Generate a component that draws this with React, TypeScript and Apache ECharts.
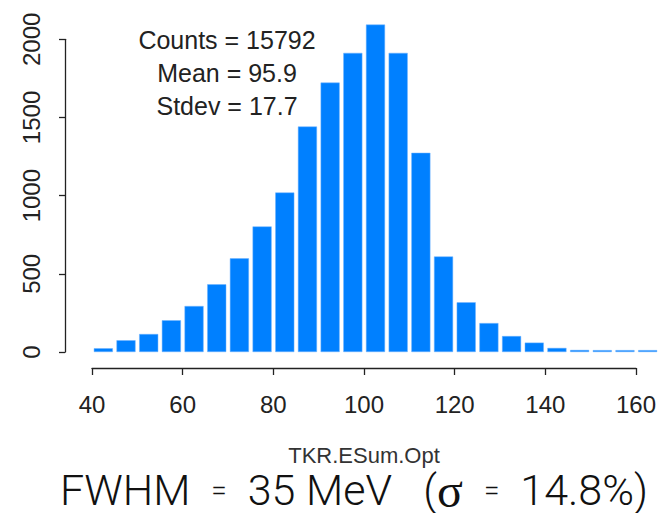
import React, { useEffect, useRef } from "react";
import * as echarts from "echarts";

const binLabels = [
  "40", "45", "50", "55", "60", "65", "70", "75", "80", "85", "90", "95", "100",
  "105", "110", "115", "120", "125", "130", "135", "140", "145", "150", "155", "160",
];
const counts = [
  24, 75, 115, 203, 294, 433, 599, 803, 1020, 1442, 1723, 1913, 2094,
  1913, 1274, 611, 318, 185, 102, 60, 26, 13, 12, 12, 12,
];
const statLines = ["Counts = 15792", "Mean = 95.9", "Stdev = 17.7"];
const xTitle = "TKR.ESum.Opt";

const FONT = "'Liberation Sans', Arial, sans-serif";
const BIG = "Roboto, 'Liberation Sans', sans-serif";

export default function App() {
  const ref = useRef<HTMLDivElement>(null);
  useEffect(() => {
    if (!ref.current) return;
    const chart = echarts.init(ref.current, null, { renderer: "svg" });
    chart.setOption({
      animation: false,
      backgroundColor: "#ffffff",
      grid: [
        { left: 92, right: 1, top: 8, bottom: 161 },
        { left: 65, width: 10, top: 39.3, bottom: 161 },
        { left: 92, width: 544, top: 300, bottom: 145 },
      ],
      xAxis: [
        { type: "category", gridIndex: 0, data: binLabels, show: false, boundaryGap: true },
        { type: "value", gridIndex: 1, show: false },
        {
          type: "value", gridIndex: 2, min: 40, max: 160, interval: 20,
          axisLine: { show: true, lineStyle: { color: "#222", width: 1.3 } },
          axisTick: { show: true, length: 7, lineStyle: { color: "#222", width: 1.3 } },
          splitLine: { show: false },
          axisLabel: { fontFamily: FONT, fontSize: 24, color: "#222", margin: 24 },
        },
      ],
      yAxis: [
        { type: "value", gridIndex: 0, min: 0, max: 2200, show: false },
        {
          type: "value", gridIndex: 1, min: 0, max: 2000, interval: 500,
          axisLine: { show: true, lineStyle: { color: "#222", width: 1.3 } },
          axisTick: { show: true, length: 6, lineStyle: { color: "#222", width: 1.3 } },
          splitLine: { show: false },
          axisLabel: {
            fontFamily: FONT, fontSize: 24, color: "#222", rotate: 90, margin: 22,
            formatter: (v: number) => String(v),
          },
        },
        { type: "value", gridIndex: 2, show: false },
      ],
      series: [
        {
          type: "bar",
          xAxisIndex: 0,
          yAxisIndex: 0,
          data: counts,
          barCategoryGap: "16%",
          clip: false,
          itemStyle: { color: "#0080ff", borderColor: "#6fb2ff", borderWidth: 0.5 },
        },
      ],
      graphic: [
        ...statLines.map((t, i) => ({
          type: "text",
          x: 227,
          y: 40 + i * 33,
          style: {
            text: t, fill: "#222", font: `25px ${FONT}`,
            align: "center", verticalAlign: "middle",
          },
        })),
        {
          type: "text", x: 364, y: 455,
          style: { text: xTitle, fill: "#333", font: `22px ${FONT}`, align: "center", verticalAlign: "middle" },
        },
        {
          type: "text", x: 354, y: 490,
          style: {
            text: "{a|FWHM  }{e|=}{a|  35 MeV   (}{s|σ}{a|  }{e|=}{a|  14.8%)}",
            align: "center", verticalAlign: "middle", fill: "#111",
            rich: {
              a: { fontFamily: BIG, fontWeight: 300, fontSize: 43, lineHeight: 30, fill: "#111" },
              e: { fontFamily: BIG, fontWeight: 300, fontSize: 28, lineHeight: 30, fill: "#111" },
              s: { fontFamily: "'Liberation Serif', 'DejaVu Serif', serif", fontSize: 48, lineHeight: 30, fill: "#111" },
            },
          },
        },
      ],
    });
    return () => chart.dispose();
  }, []);
  return <div ref={ref} style={{ width: 660, height: 513, position: "absolute", left: 0, top: 0 }} />;
}
